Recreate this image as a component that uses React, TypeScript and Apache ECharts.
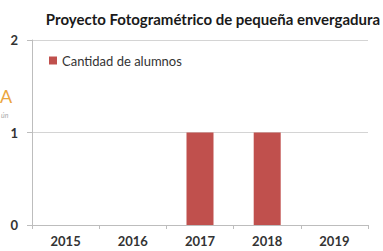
import React, { useEffect, useRef } from "react";
import * as echarts from "echarts";

const categories = ["2015", "2016", "2017", "2018", "2019"];
const alumnos = [0, 0, 1, 1, 0];
const seriesName = "Cantidad de alumnos";
const titleText = "Proyecto Fotogramétrico de pequeña envergadura";

export default function App() {
  const ref = useRef<HTMLDivElement>(null);
  useEffect(() => {
    if (!ref.current) return;
    const chart = echarts.init(ref.current, null, { renderer: "svg" });
    chart.setOption({
      animation: false,
      backgroundColor: "#ffffff",
      title: {
        text: titleText,
        left: 208,
        textAlign: "center",
        top: 6,
        textStyle: { fontFamily: "Lato", fontWeight: "bold", fontSize: 15, color: "#1a1a1a" },
      },
      legend: {
        data: [seriesName],
        left: 44,
        top: 49,
        itemWidth: 8,
        itemHeight: 8,
        icon: "rect",
        itemGap: 4,
        textStyle: { fontFamily: "Lato", fontSize: 13, color: "#333", padding: [0, 0, 0, 0] },
      },
      grid: { left: 32, right: 15, top: 40, bottom: 26 },
      xAxis: {
        type: "category",
        data: categories,
        axisLine: { lineStyle: { color: "#bdbdbd" } },
        axisTick: { show: true, length: 4, lineStyle: { color: "#bdbdbd" } },
        axisLabel: { fontFamily: "Lato", fontWeight: "bold", fontSize: 13, color: "#333", margin: 9 },
      },
      yAxis: {
        type: "value",
        min: 0,
        max: 2,
        interval: 1,
        axisLine: { show: true, lineStyle: { color: "#bdbdbd" } },
        axisTick: { show: true, length: 5, lineStyle: { color: "#bdbdbd" } },
        splitLine: { lineStyle: { color: "#d4d4d4" } },
        axisLabel: { fontFamily: "Lato", fontWeight: "bold", fontSize: 13, color: "#333", margin: 14 },
      },
      graphic: [
        { type: "text", left: 0, top: 87, style: { text: "A", fill: "#EBA53E", font: "18px Lato" } },
        { type: "text", left: 1, top: 111, style: { text: "ún", fill: "#aaaaaa", font: "italic 7px Lato" } },
      ],
      series: [
        {
          name: seriesName,
          type: "bar",
          data: alumnos,
          barWidth: 27,
          itemStyle: { color: "#C0504D" },
        },
      ],
    });
    return () => chart.dispose();
  }, []);
  return <div ref={ref} style={{ width: 383, height: 251, position: "absolute", left: 0, top: 0 }} />;
}
